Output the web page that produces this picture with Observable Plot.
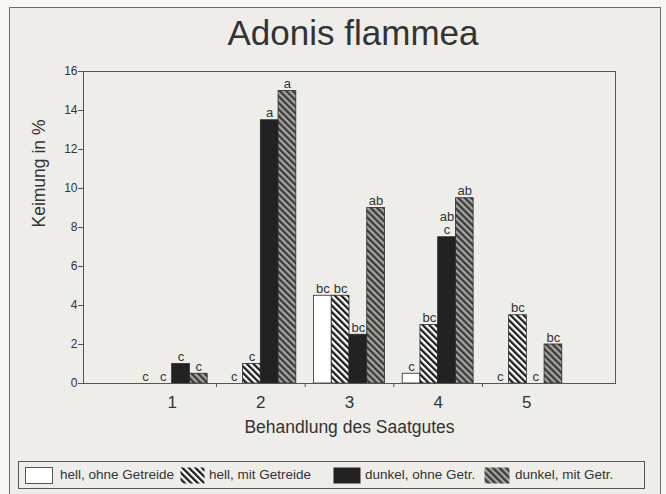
<!DOCTYPE html>
<html>
<head>
<meta charset="utf-8">
<script src="https://cdn.jsdelivr.net/npm/d3@7"></script>
<script src="https://cdn.jsdelivr.net/npm/@observablehq/plot@0.6"></script>
<style>
  html, body { margin: 0; padding: 0; }
  body { width: 666px; height: 494px; background: #f7f6f2; position: relative; overflow: hidden;
         font-family: "Liberation Sans", Arial, Helvetica, sans-serif; color: #333; }
  #panel { position: absolute; left: 9px; top: 7px; width: 650px; height: 500px;
           border: 1.5px solid #6a6a6a; background: #eeede9; }
  #title { position: absolute; left: 0; width: 706px; top: 15px; text-align: center;
           font-size: 35px; line-height: 35px; color: #333; }
  #chart { position: absolute; left: 0; top: 60px; }
  #legend { position: absolute; left: 18px; top: 461px; width: 625px; height: 26px;
            border: 1px solid #555; }
  .item { position: absolute; top: 0; height: 26px; }
  .item svg { position: absolute; top: 5px; }
  .item span { position: absolute; top: 0; line-height: 26px; font-size: 13.5px; white-space: nowrap; color: #333; }
</style>
</head>
<body>
<svg width="0" height="0" style="position:absolute">
  <defs>
    <pattern id="patHellMit" patternUnits="userSpaceOnUse" width="4.6" height="4.6" patternTransform="rotate(-45)">
      <rect width="4.6" height="4.6" fill="#ffffff"/>
      <rect width="2.3" height="4.6" fill="#1c1c1c"/>
    </pattern>
    <pattern id="patDunkelMit" patternUnits="userSpaceOnUse" width="4.6" height="4.6" patternTransform="rotate(-45)">
      <rect width="4.6" height="4.6" fill="#a9a7a3"/>
      <rect width="2.3" height="4.6" fill="#3a3a3a"/>
    </pattern>
  </defs>
</svg>
<div id="panel"></div>
<div id="title">Adonis flammea</div>
<div id="chart"></div>
<div id="legend"></div>
<script>
// ---- data ----
const categories = [1, 2, 3, 4, 5];
const series = ["hell, ohne Getreide", "hell, mit Getreide", "dunkel, ohne Getr.", "dunkel, mit Getr."];
const hellOhne   = [0,   0,    4.5, 0.5, 0];
const hellMit    = [0,   1.0,  4.5, 3.0, 3.5];
const dunkelOhne = [1.0, 13.5, 2.5, 7.5, 0];
const dunkelMit  = [0.5, 15.0, 9.0, 9.5, 2.0];
const lettersHellOhne   = ["c", "c", "bc", "c", "c"];
const lettersHellMit    = ["c", "c", "bc", "bc", "bc"];
const lettersDunkelOhne = ["c", "a", "bc", "ab\nc", "c"];
const lettersDunkelMit  = ["c", "a", "ab", "ab", "bc"];
const yTicks = [0, 2, 4, 6, 8, 10, 12, 14, 16];
const yLabel = "Keimung in %";
const xLabel = "Behandlung des Saatgutes";

// ---- styles ----
const fills = ["#ffffff", "url(#patHellMit)", "#222222", "url(#patDunkelMit)"];
const barWidth = 0.2;

const valueSets = [hellOhne, hellMit, dunkelOhne, dunkelMit];
const letterSets = [lettersHellOhne, lettersHellMit, lettersDunkelOhne, lettersDunkelMit];
const rows = [];
categories.forEach((c, ci) => {
  series.forEach((s, si) => {
    rows.push({cat: c, idx: si, series: s, value: valueSets[si][ci], letter: letterSets[si][ci]});
  });
});
const boundaries = categories.slice(1).map(c => c - 0.5);

const chart = Plot.plot({
  width: 666,
  height: 395,
  marginTop: 11,
  marginBottom: 72,
  marginLeft: 83,
  marginRight: 51,
  style: {background: "transparent", fontFamily: "'Liberation Sans', Arial, sans-serif", color: "#333", overflow: "visible"},
  x: {domain: [0, 6], axis: null},
  y: {domain: [0, 16], axis: null},
  color: {domain: series, range: fills},
  marks: [
    Plot.rect(rows.filter(d => d.value > 0), {
      x1: d => d.cat + (d.idx - 2) * barWidth,
      x2: d => d.cat + (d.idx - 1) * barWidth,
      y1: 0,
      y2: "value",
      fill: "series",
      stroke: "#2a2a2a",
      strokeWidth: 0.8
    }),
    Plot.text(rows, {
      x: d => d.cat + (d.idx - 1.5) * barWidth,
      y: "value",
      text: "letter",
      lineAnchor: "bottom",
      dy: -3,
      fontSize: 13,
      fill: "#333",
      lineHeight: 1.05
    }),
    Plot.frame({stroke: "#555", strokeWidth: 1}),
    Plot.axisY({ticks: yTicks, tickSize: 5, tickPadding: 1, fontSize: 12, label: null, stroke: "#555", fill: "#333"}),
    Plot.axisX({ticks: categories, tickSize: 0, tickPadding: 12, fontSize: 17, tickFormat: d => String(d), label: null, fill: "#333"}),
    Plot.axisX({ticks: boundaries, tickSize: 4, tickFormat: () => "", label: null, stroke: "#555"}),
    Plot.text([yLabel], {frameAnchor: "left", dx: -44, rotate: -90, fontSize: 17.5, fill: "#333"}),
    Plot.text([xLabel], {frameAnchor: "bottom", dy: 49, fontSize: 17.5, fill: "#333"})
  ]
});
document.getElementById("chart").appendChild(chart);

// ---- legend ----
const legend = document.getElementById("legend");
const swatchX = [6, 161, 314, 465];
const swatchW = [27, 24, 27, 25];
const textX = [41, 190, 346, 496];
series.forEach((s, i) => {
  const item = document.createElement("div");
  item.className = "item";
  item.style.left = "0px";
  const ns = "http://www.w3.org/2000/svg";
  const svg = document.createElementNS(ns, "svg");
  svg.setAttribute("width", swatchW[i] + 1);
  svg.setAttribute("height", 17);
  svg.style.left = swatchX[i] + "px";
  const r = document.createElementNS(ns, "rect");
  r.setAttribute("x", 0.5); r.setAttribute("y", 0.5);
  r.setAttribute("width", swatchW[i]); r.setAttribute("height", 16);
  r.setAttribute("fill", fills[i]);
  r.setAttribute("stroke", i === 0 ? "#555" : "none");
  svg.appendChild(r);
  const t = document.createElement("span");
  t.textContent = s;
  t.style.left = textX[i] + "px";
  item.appendChild(svg);
  item.appendChild(t);
  legend.appendChild(item);
});
</script>
</body>
</html>
